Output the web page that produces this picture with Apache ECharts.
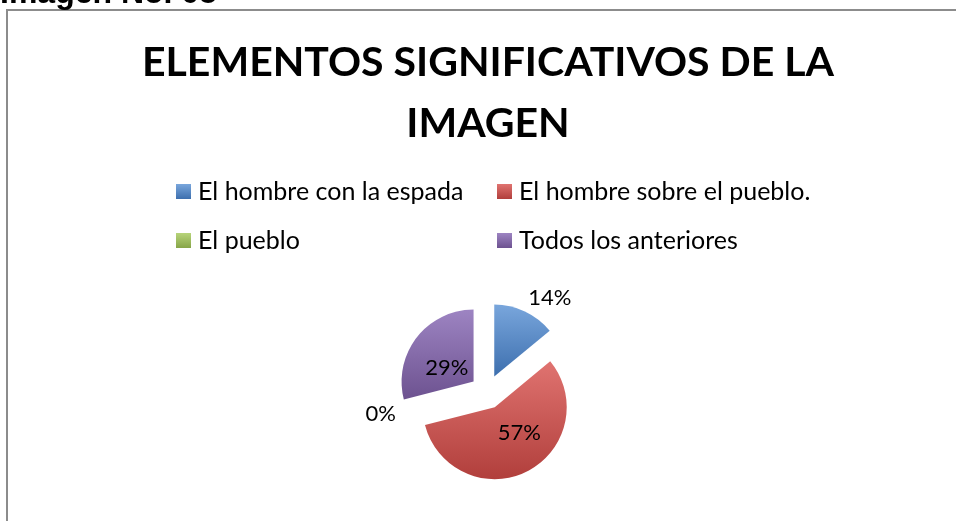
<!DOCTYPE html>
<html>
<head>
<meta charset="utf-8">
<script src="https://cdn.jsdelivr.net/npm/echarts@6/dist/echarts.min.js"></script>
<style>
  html, body { margin: 0; padding: 0; background: #fff; }
  #chart { width: 956px; height: 521px; }
</style>
</head>
<body>
<div id="chart"></div>
<script>
// datos de la gráfica
var categorias = ['El hombre con la espada', 'El hombre sobre el pueblo.', 'El pueblo', 'Todos los anteriores'];
var valores = [14, 57, 0, 29];
var titulo = 'ELEMENTOS SIGNIFICATIVOS DE LA\nIMAGEN';
var encabezado = 'Imagen No. 05';

// colores tipo Office (claro arriba, oscuro abajo)
var colores = [
  ['#79a6dc', '#3d6fae'],
  ['#e07370', '#b13f3c'],
  ['#b7d47a', '#87a548'],
  ['#9d84c2', '#6d5290']
];
// etiquetas: 14% y 0% afuera, el resto adentro
var posEtiqueta = ['outside', 'inside', 'outside', 'inside'];
var largoLinea = [8, 12, 0, 12];
var ajusteEtiqueta = [[-5, -6], [7, -9], [0, 0], [4, 10]];

var myChart = echarts.init(document.getElementById('chart'));

var datos = [];
for (var i = 0; i < categorias.length; i++) {
  datos.push({
    name: categorias[i],
    value: valores[i],
    selected: true,
    itemStyle: {
      color: new echarts.graphic.LinearGradient(0, 0, 0, 1, [
        { offset: 0, color: colores[i][0] },
        { offset: 1, color: colores[i][1] }
      ])
    },
    label: { position: posEtiqueta[i] },
    labelLine: { length: largoLinea[i] }
  });
}

var fuente = 'Lato, "Open Sans", sans-serif';
var estiloLeyenda = {
  fontFamily: fuente,
  fontSize: 25,
  lineHeight: 25,
  color: '#000000',
  padding: [0, 0, 0, 2]
};

var option = {
  backgroundColor: '#ffffff',
  animation: false,
  title: {
    text: titulo,
    left: 483,
    top: 27,
    textAlign: 'center',
    textStyle: {
      fontFamily: fuente,
      fontWeight: 'bold',
      fontSize: 41,
      lineHeight: 61,
      color: '#000000'
    }
  },
  legend: [
    {
      data: [categorias[0], categorias[2]],
      orient: 'vertical',
      left: 171,
      top: 174,
      itemWidth: 15,
      itemHeight: 15,
      itemGap: 24,
      icon: 'rect',
      selectedMode: false,
      textStyle: estiloLeyenda
    },
    {
      data: [categorias[1], categorias[3]],
      orient: 'vertical',
      left: 492,
      top: 174,
      itemWidth: 15,
      itemHeight: 15,
      itemGap: 24,
      icon: 'rect',
      selectedMode: false,
      textStyle: estiloLeyenda
    }
  ],
  graphic: [
    {
      type: 'rect',
      shape: { x: 7, y: 10, width: 1000, height: 600 },
      style: { fill: 'none', stroke: '#8c8c8c', lineWidth: 2 }
    },
    {
      type: 'text',
      x: 0,
      y: 10,
      style: {
        text: encabezado,
        font: 'bold 32px "Liberation Sans", Arial, sans-serif',
        fill: '#000000',
        verticalAlign: 'bottom'
      }
    }
  ],
  series: [
    {
      type: 'pie',
      center: [487, 392],
      radius: 72,
      startAngle: 90,
      clockwise: true,
      selectedMode: 'multiple',
      selectedOffset: 17,
      avoidLabelOverlap: false,
      emphasis: { disabled: true },
      label: {
        show: true,
        formatter: function (p) { return p.value + '%'; },
        fontFamily: fuente,
        fontSize: 22,
        color: '#000000'
      },
      labelLine: { show: false, length: 12, length2: 0 },
      labelLayout: function (p) {
        var a = ajusteEtiqueta[p.dataIndex];
        return { dx: a[0], dy: a[1] };
      },
      data: datos
    }
  ]
};
myChart.setOption(option);
</script>
</body>
</html>
